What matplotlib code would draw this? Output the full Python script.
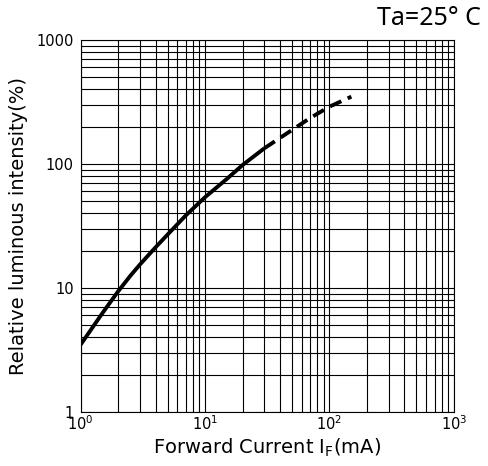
import matplotlib
matplotlib.use("Agg")
import matplotlib.pyplot as plt
from matplotlib.ticker import LogLocator, FixedLocator, FixedFormatter, NullFormatter

# ── data ────────────────────────────────────────────────────────────────────
if_solid = [1, 1.5, 2, 2.5, 3, 4, 5, 7, 10, 15, 20, 30]
iv_solid = [3.5, 6.3, 9.4, 12.5, 15.5, 21.3, 27.0, 38.5, 54, 76, 98, 134]
if_dash = [30, 50, 70, 100, 150]
iv_dash = [134, 188, 235, 290, 349]

y_ticks = [1, 10, 100, 1000]
y_labels = ["1", "10", "100", "1000"]

fig = plt.figure(figsize=(4.88, 4.66), dpi=100)
ax = fig.add_axes([0.1654, 0.1159, 0.7646, 0.7983])

ax.plot(if_solid, iv_solid, color="black", lw=2.8, solid_capstyle="butt",
        solid_joinstyle="round")
ax.plot(if_dash, iv_dash, color="black", lw=2.8, linestyle=(0, (3.2, 1.8)))

ax.set_xscale("log")
ax.set_yscale("log")
ax.set_xlim(1, 1000)
ax.set_ylim(1, 1000)

ax.xaxis.set_major_locator(LogLocator(base=10, numticks=10))
ax.xaxis.set_minor_locator(LogLocator(base=10, subs=range(2, 10), numticks=20))
ax.xaxis.set_minor_formatter(NullFormatter())
ax.yaxis.set_major_locator(FixedLocator(y_ticks))
ax.yaxis.set_major_formatter(FixedFormatter(y_labels))
ax.yaxis.set_minor_locator(LogLocator(base=10, subs=range(2, 10), numticks=20))
ax.yaxis.set_minor_formatter(NullFormatter())

ax.grid(which="both", color="black", lw=0.8)
ax.tick_params(which="both", length=0)
ax.tick_params(axis="y", labelsize=10.5, pad=5)
ax.tick_params(axis="x", labelsize=10.5, pad=2)
for s in ax.spines.values():
    s.set_linewidth(0.8)

ax.set_xlabel("Forward Current I$_\\mathrm{F}$(mA)", fontsize=14, labelpad=2)
ax.set_ylabel("Relative luminous intensity(%)", fontsize=14, labelpad=6)

fig.text(0.986, 0.946, "Ta=25° C", ha="right", va="baseline",
         fontsize=18, family="Noto Sans")

fig.savefig("out.png", dpi=100)
